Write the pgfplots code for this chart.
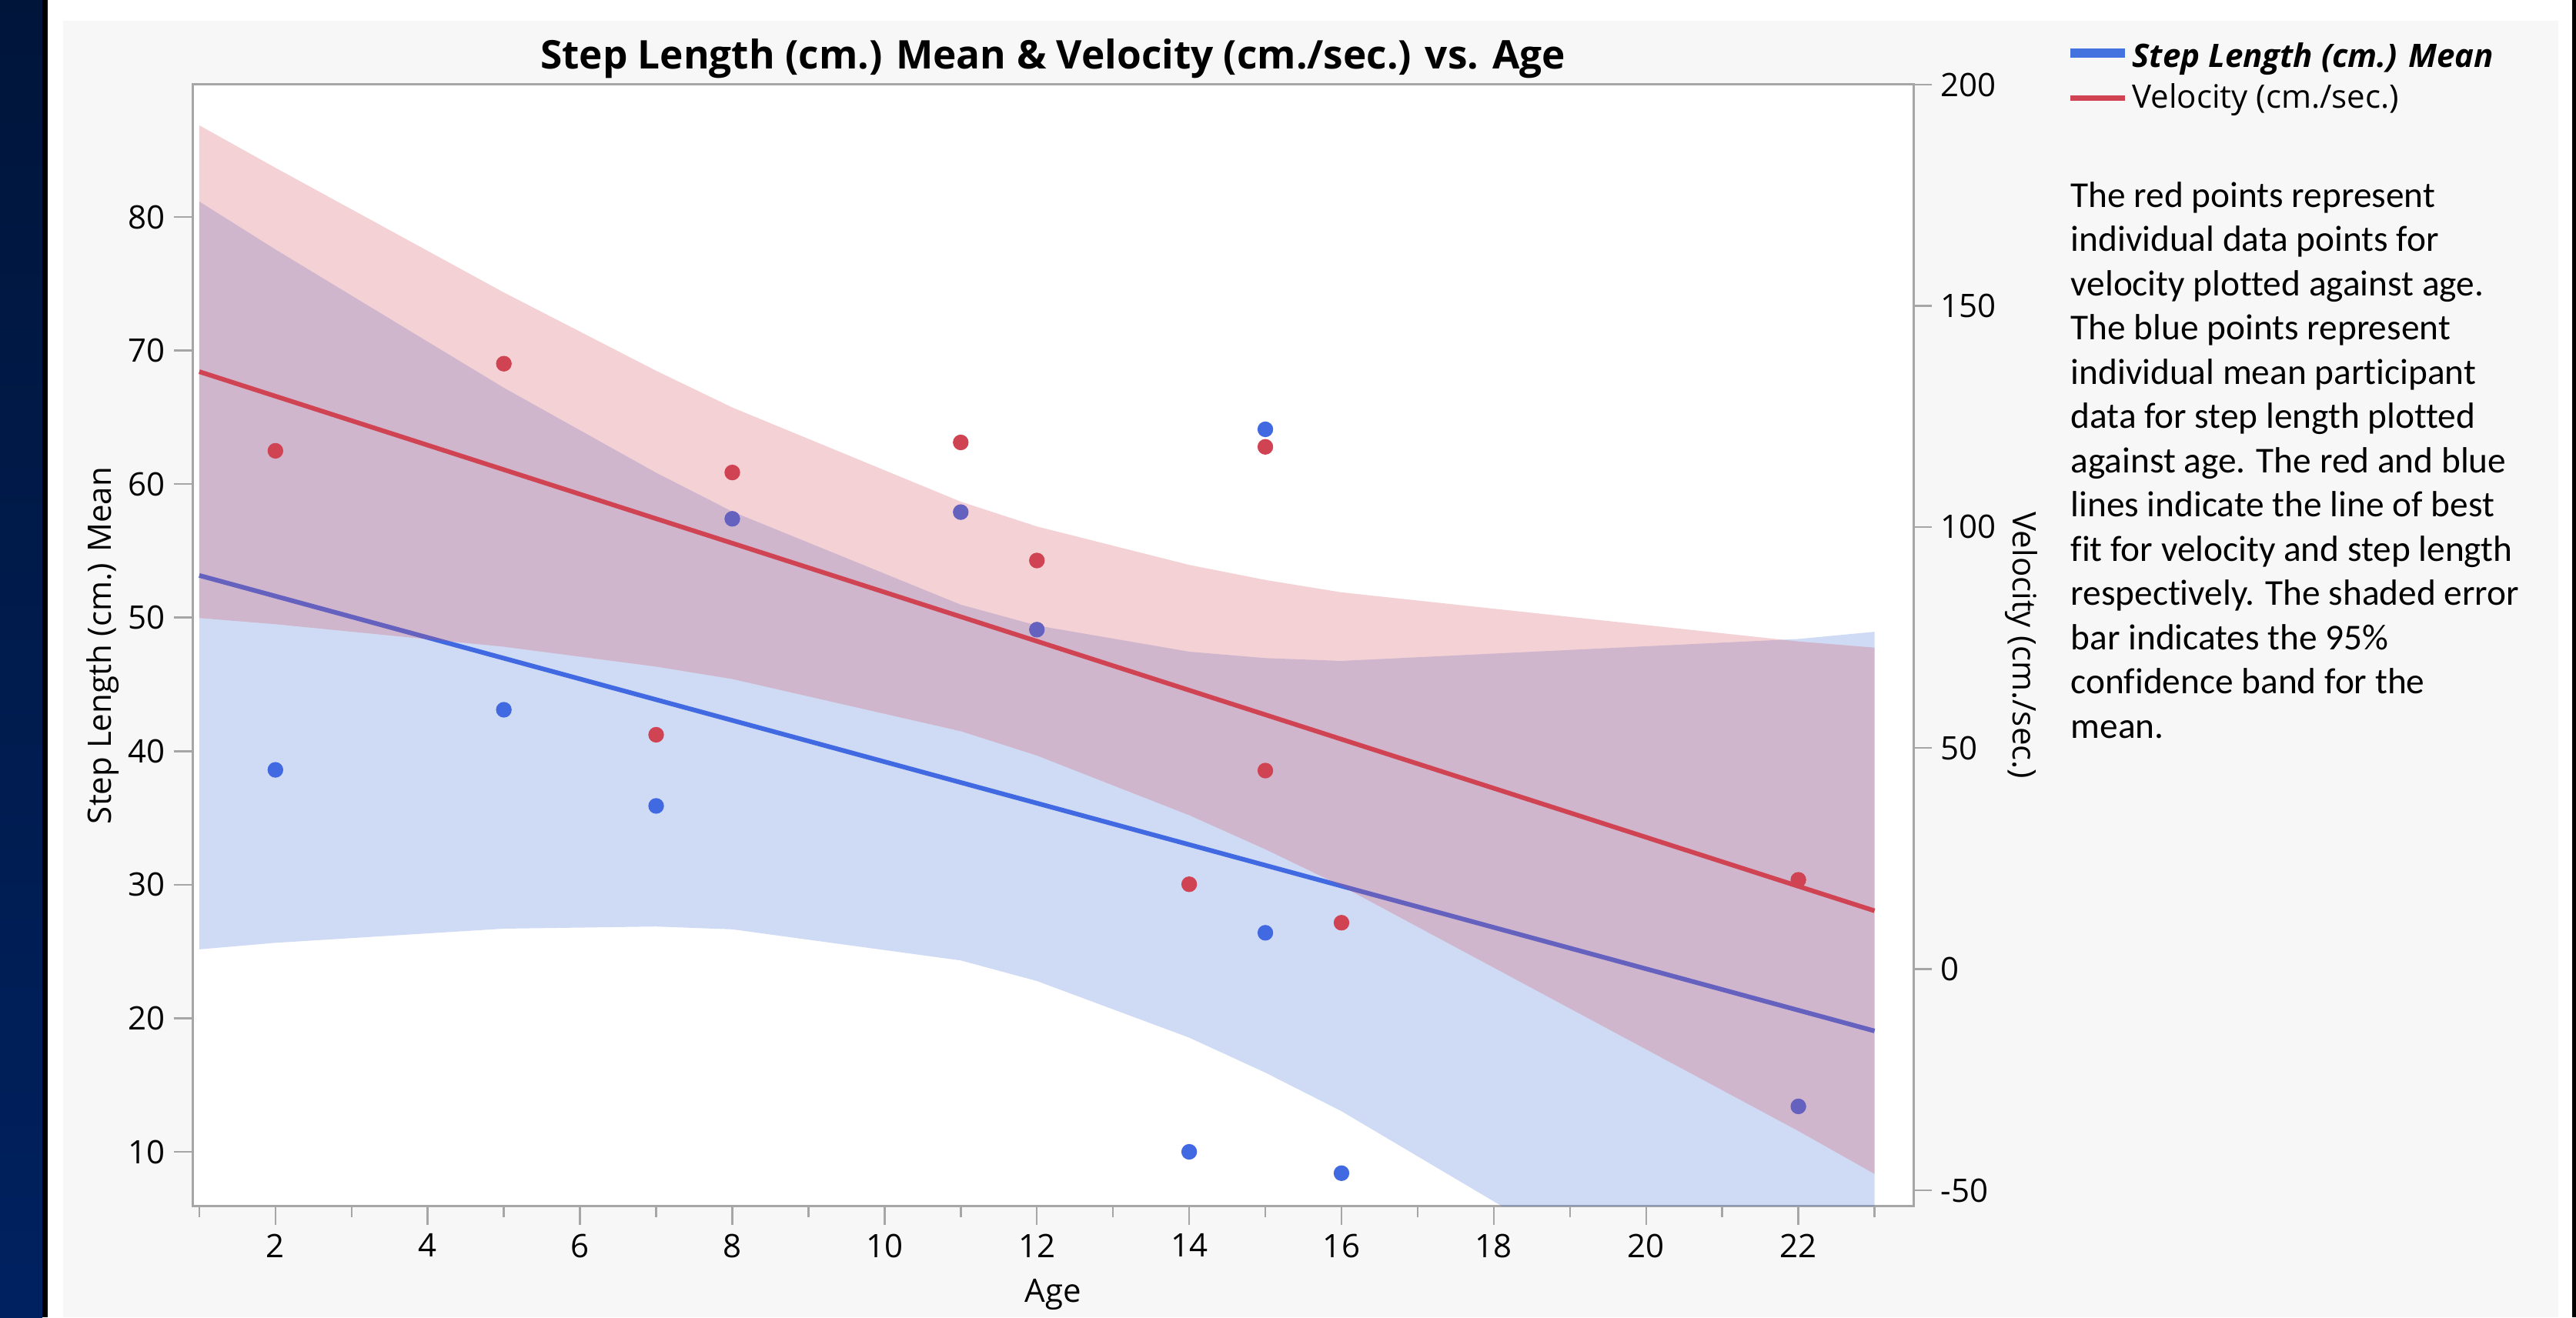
\documentclass[border=0pt]{standalone}
\usepackage{fontspec}
\setmainfont{Open Sans}
\newfontfamily\notefont{Carlito}[Ligatures={NoCommon}]
\usepackage{pgfplots}
\pgfplotsset{compat=1.18}

\definecolor{panel}{HTML}{F7F7F7}
\definecolor{navytop}{RGB}{0,21,58}
\definecolor{navybot}{RGB}{0,33,96}
\definecolor{framegray}{HTML}{A6A6A6}
\definecolor{stepblue}{RGB}{65,105,225}
\definecolor{velred}{RGB}{208,67,82}
\definecolor{bandblue}{rgb}{0.264,0.452,0.844}
\definecolor{bandred}{rgb}{0.828,0.296,0.356}
\definecolor{legblue}{RGB}{68,114,222}

\newcommand\basefont{\fontsize{12.6bp}{15bp}\selectfont}

\pgfplotsset{
  jmpaxis/.style={
    at={(75bp,43.2bp)}, anchor=south west,
    scale only axis, width=670.8bp, height=437.4bp,
    xmin=0.91, xmax=23.51,
    tick align=outside,
    major tick length=7.2bp, minor tick length=4.2bp,
    every tick/.style={framegray, line width=0.75bp},
    axis line style={framegray, line width=0.9bp},
    tick label style={font=\basefont},
    label style={font=\basefont, inner sep=0pt},
    /pgf/number format/assume math mode=true,
    clip=true,
  }
}

\begin{document}
\begin{tikzpicture}
\begin{scope}[x=0.3bp,y=0.3bp]
\fill[white] (0,0) rectangle (3347,1712);
\shade[top color=navytop,bottom color=navybot] (0,0) rectangle (55,1712);
\fill[black] (55,0) rectangle (62,1712);
\fill[panel] (82,0) rectangle (3324,1685);
\fill[black] (3342,0) rectangle (3347,1712);
\fill[white] (250,144) rectangle (2486,1602);
\end{scope}

% step length, left axis
\begin{axis}[jmpaxis,
  ymin=5.91, ymax=89.91,
  xtick={2,4,...,22}, minor xtick={1,3,...,23},
  ytick={10,20,...,80},
  xtick pos=left, ytick pos=left,
  xlabel={Age},
  xlabel style={at={(axis description cs:0.5,0)}, anchor=base, yshift=-37.5bp},
  ylabel={Step Length (cm.) Mean},
]
\addplot[draw=none, fill=bandblue, fill opacity=0.25] coordinates {
  (1,81.16) (2,77.57) (5,67.21) (7,60.85) (8,57.94) (11,50.97) (12,49.41)
  (14,47.45) (15,46.97) (16,46.76) (22,48.40) (23,48.94)
  (23,-10.84) (22,-7.22) (16,13.04) (15,15.93) (14,18.55) (12,22.79)
  (11,24.33) (8,26.66) (7,26.87) (5,26.71) (2,25.65) (1,25.16)
} -- cycle;
\addplot[stepblue, line width=1.8bp] coordinates {(1,53.16) (23,19.05)};
\addplot[only marks, mark=*, mark size=2.85bp, stepblue, mark options={draw=none}] coordinates {
  (2,38.6) (5,43.1) (7,35.9) (8,57.4) (11,57.9) (12,49.1)
  (14,10.0) (15,64.1) (15,26.4) (16,8.4) (22,13.4)
};
\end{axis}

% velocity, right axis
\begin{axis}[jmpaxis,
  ymin=-53.65, ymax=200,
  axis x line=none, axis y line*=right,
  ytick={-50,0,...,200},
  ylabel={Velocity (cm./sec.)},
  ylabel style={rotate=180},
]
\addplot[draw=none, fill=bandred, fill opacity=0.25] coordinates {
  (1,190.8) (2,181.2) (5,153.0) (7,135.3) (8,127.0) (11,105.7) (12,100.1)
  (14,91.4) (15,88.0) (16,85.2) (22,74.1) (23,72.7)
  (23,-46.3) (22,-36.6) (16,18.8) (15,27.1) (14,34.8) (12,48.3)
  (11,53.8) (8,65.6) (7,68.4) (5,72.9) (2,78.0) (1,79.4)
} -- cycle;
\addplot[velred, line width=1.8bp] coordinates {(1,135.1) (23,13.2)};
\addplot[only marks, mark=*, mark size=2.85bp, velred, mark options={draw=none}] coordinates {
  (2,117.2) (5,136.9) (7,53.0) (8,112.3) (11,119.1) (12,92.4)
  (14,19.2) (15,118.1) (15,44.9) (16,10.5) (22,20.2)
};
\end{axis}

\begin{scope}[x=0.3bp,y=0.3bp]
\node[anchor=base, inner sep=0] at (1368,{1712-89})
  {\fontsize{15.4bp}{18bp}\selectfont\bfseries Step Length (cm.) Mean \& Velocity (cm./sec.) vs. Age};
\draw[legblue, line width=3.6bp] (2690,{1712-69}) -- (2761,{1712-69});
\draw[velred, line width=2.1bp] (2690,{1712-127}) -- (2761,{1712-127});
\node[anchor=base west, inner sep=0] at (2770,{1712-87}) {\basefont\bfseries\itshape Step Length (cm.) Mean};
\node[anchor=base west, inner sep=0] at (2770,{1712-140}) {\basefont Velocity (cm./sec.)};
\foreach \t [count=\i] in {The red points represent, individual data points for,
  velocity plotted against age., The blue points represent, individual mean participant,
  data for step length plotted, against age. The red and blue, lines indicate the line of best,
  fit for velocity and step length, respectively. The shaded error, bar indicates the 95\%,
  confidence band for the, mean.}
  \node[anchor=base west, inner sep=0] at (2690,{1712-269-57.5*(\i-1)})
    {\notefont\fontsize{14.2bp}{17bp}\selectfont \t};
\end{scope}
\pgfresetboundingbox
\path[use as bounding box] (0,0) rectangle (1004.1bp,513.6bp);
\end{tikzpicture}
\end{document}
